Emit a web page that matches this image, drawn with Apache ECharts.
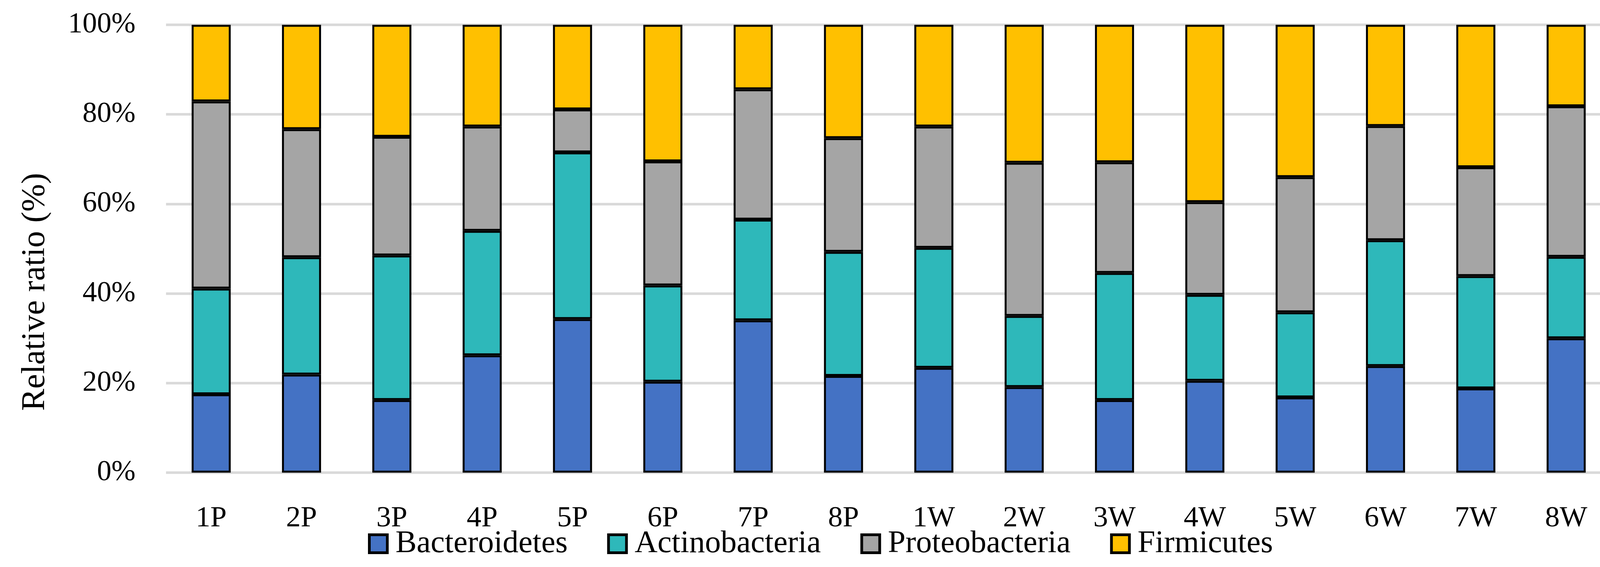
<!DOCTYPE html>
<html>
<head>
<meta charset="utf-8">
<script src="https://cdn.jsdelivr.net/npm/echarts@6/dist/echarts.min.js"></script>
<style>
html,body{margin:0;padding:0;background:#fff;}
#chart{width:4166px;height:1451px;}
</style>
</head>
<body>
<div id="chart"></div>
<script>
var categories = ['1P','2P','3P','4P','5P','6P','7P','8P','1W','2W','3W','4W','5W','6W','7W','8W'];
var bacteroidetes  = [17.5, 21.9, 16.2, 26.2, 34.3, 20.3, 34.0, 21.6, 23.4, 19.1, 16.2, 20.5, 16.8, 23.8, 18.8, 30.0];
var actinobacteria = [23.6, 26.2, 32.3, 27.8, 37.2, 21.5, 22.5, 27.7, 26.8, 15.9, 28.4, 19.2, 19.0, 28.1, 25.1, 18.2];
var proteobacteria = [41.8, 28.6, 26.5, 23.3,  9.6, 27.7, 29.1, 25.4, 27.1, 34.2, 24.7, 20.7, 30.2, 25.5, 24.3, 33.6];
var firmicutes     = [17.1, 23.3, 25.0, 22.7, 18.9, 30.5, 14.4, 25.3, 22.7, 30.8, 30.7, 39.6, 34.0, 22.6, 31.8, 18.2];
var yTicks = [0, 20, 40, 60, 80, 100];

var FONT = '"Liberation Serif", "DejaVu Serif", serif';
var chart = echarts.init(document.getElementById('chart'), null, {renderer: 'canvas'});

function mk(name, data, color) {
  return {
    name: name, type: 'bar', stack: 'total', data: data,
    barWidth: 100,
    itemStyle: {color: color, borderColor: '#000', borderWidth: 5},
    emphasis: {disabled: true}
  };
}

chart.setOption({
  animation: false,
  backgroundColor: '#fff',
  grid: {left: 425, right: 41, top: 63.5, bottom: 241.5, containLabel: false},
  xAxis: {
    type: 'category', data: categories,
    axisLine: {show: false}, axisTick: {show: false},
    axisLabel: {color: '#000', fontFamily: FONT, fontSize: 75, margin: 80}
  },
  yAxis: {
    type: 'value', min: yTicks[0], max: yTicks[yTicks.length - 1], interval: 20,
    name: 'Relative ratio (%)', nameLocation: 'middle', nameGap: 292,
    nameTextStyle: {color: '#000', fontFamily: FONT, fontSize: 85, padding: [0, 221, 0, 0]},
    axisLine: {show: false}, axisTick: {show: false},
    axisLabel: {color: '#000', fontFamily: FONT, fontSize: 74, margin: 78, formatter: '{value}%'},
    splitLine: {show: true, lineStyle: {color: '#d9d9d9', width: 6.5}}
  },
  legend: {
    left: 942, top: 1351, padding: 0,
    itemWidth: 46, itemHeight: 46, itemGap: 101,
    icon: 'rect',
    itemStyle: {borderColor: '#000', borderWidth: 7},
    formatter: '{t|{name}}',
    textStyle: {
      color: '#000', fontFamily: FONT, fontSize: 81,
      rich: {t: {color: '#000', fontFamily: FONT, fontSize: 81, padding: [0, 0, 0, 16]}}
    },
    data: ['Bacteroidetes', 'Actinobacteria', 'Proteobacteria', 'Firmicutes']
  },
  series: [
    mk('Bacteroidetes', bacteroidetes, '#4472C4'),
    mk('Actinobacteria', actinobacteria, '#2EB8BA'),
    mk('Proteobacteria', proteobacteria, '#A5A5A5'),
    mk('Firmicutes', firmicutes, '#FFC000')
  ]
});
</script>
</body>
</html>
